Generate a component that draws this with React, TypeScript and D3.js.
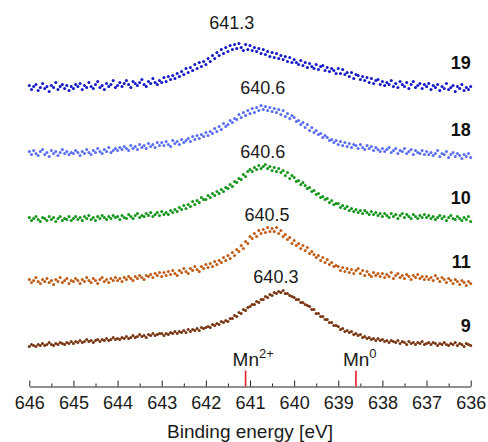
import React, { useEffect, useRef } from 'react';
import * as d3 from 'd3';

// binding energy grid, 646 -> 636 eV in 0.05 eV steps
const energy: number[] = d3.range(201).map(i => +(646 - i * 0.05).toFixed(2));

// intensities (a.u., already offset for stacking)
const s19 = [
  301, 297, 300, 302, 296, 299, 303, 298, 300, 295, 301, 299, 304, 297, 300, 302, 298, 301, 296, 300,
  298, 302, 300, 303, 297, 301, 299, 304, 300, 298, 302, 305, 299, 301, 297, 303, 300, 302, 306, 299,
  301, 304, 300, 303, 306, 302, 299, 305, 303, 301, 304, 307, 302, 300, 305, 303, 308, 304, 302, 306,
  304, 309, 305, 310, 307, 311, 308, 313, 310, 315, 312, 318, 314, 319, 316, 322, 318, 324, 320, 325,
  322, 328, 325, 331, 328, 334, 331, 337, 333, 339, 335, 341, 337, 342, 338, 343, 339, 336, 342, 337,
  341, 336, 339, 335, 338, 333, 337, 332, 335, 330, 334, 329, 333, 328, 331, 327, 330, 325, 329, 324,
  327, 324, 322, 326, 321, 324, 319, 323, 320, 318, 322, 317, 320, 321, 316, 319, 315, 318, 316, 313,
  318, 313, 317, 312, 314, 310, 314, 308, 312, 311, 307, 310, 306, 309, 304, 308, 303, 306, 307, 302,
  305, 301, 304, 302, 306, 300, 303, 299, 305, 302, 300, 304, 298, 302, 305, 299, 301, 303, 298, 302,
  300, 303, 297, 301, 299, 302, 296, 300, 298, 303, 297, 299, 301, 295, 300, 298, 302, 296, 299, 297, 300,
];
const s18 = [
  235, 232, 236, 233, 231, 235, 237, 232, 234, 230, 236, 233, 235, 231, 234, 237, 233, 235, 232, 234,
  233, 236, 234, 231, 235, 233, 237, 234, 232, 236, 234, 238, 235, 233, 237, 235, 239, 234, 236, 238,
  236, 239, 237, 240, 238, 236, 241, 238, 240, 237, 242, 239, 241, 238, 243, 240, 242, 239, 244, 241,
  244, 241, 245, 242, 240, 246, 243, 245, 242, 247, 244, 246, 248, 245, 250, 247, 251, 248, 252, 250,
  254, 251, 255, 253, 258, 255, 260, 257, 263, 260, 262, 266, 264, 268, 267, 272, 269, 274, 271, 276,
  273, 278, 274, 279, 276, 281, 277, 280, 276, 279, 275, 278, 274, 277, 272, 276, 270, 273, 268, 271,
  269, 265, 266, 262, 264, 259, 262, 256, 259, 254, 256, 252, 253, 249, 251, 249, 246, 247, 244, 246,
  242, 245, 241, 244, 240, 243, 239, 242, 241, 238, 242, 239, 237, 241, 238, 240, 236, 239, 237, 235,
  238, 235, 237, 239, 234, 236, 238, 233, 236, 235, 238, 233, 235, 237, 232, 236, 234, 233, 236, 232,
  235, 232, 234, 231, 233, 236, 230, 233, 232, 235, 229, 232, 234, 230, 233, 231, 228, 232, 230, 233, 229,
];
const s10 = [
  169, 166, 168, 170, 167, 165, 169, 168, 166, 170, 167, 169, 165, 168, 170, 166, 168, 167, 170, 166,
  168, 170, 167, 169, 166, 170, 168, 171, 167, 169, 166, 170, 168, 171, 169, 167, 170, 168, 171, 169,
  170, 167, 171, 169, 168, 172, 170, 168, 171, 173, 169, 171, 170, 173, 171, 174, 170, 172, 174, 171,
  175, 172, 174, 172, 176, 174, 177, 175, 179, 177, 181, 178, 182, 180, 185, 182, 186, 184, 189, 187,
  187, 191, 189, 193, 191, 195, 193, 197, 195, 199, 198, 202, 200, 205, 204, 208, 207, 212, 210, 215,
  217, 215, 219, 217, 221, 218, 220, 222, 218, 220, 216, 219, 215, 218, 214, 216, 211, 214, 208, 211,
  209, 205, 206, 202, 204, 201, 198, 199, 195, 196, 192, 193, 189, 190, 187, 188, 184, 186, 182, 183,
  183, 179, 181, 178, 180, 176, 178, 175, 177, 174, 176, 173, 176, 174, 172, 175, 172, 174, 171, 173,
  170, 173, 171, 169, 173, 170, 172, 168, 171, 173, 169, 172, 170, 168, 172, 170, 168, 171, 169, 172,
  169, 171, 168, 170, 167, 169, 171, 168, 170, 166, 169, 171, 168, 167, 170, 168, 166, 169, 167, 170, 165,
];
const s11 = [
  107, 104, 106, 109, 105, 103, 107, 105, 108, 104, 106, 102, 107, 105, 109, 104, 106, 108, 103, 106,
  105, 108, 106, 103, 107, 105, 109, 106, 104, 108, 106, 103, 107, 109, 105, 107, 104, 108, 106, 109,
  106, 108, 105, 109, 107, 110, 108, 106, 110, 108, 111, 109, 107, 111, 110, 112, 109, 113, 111, 114,
  110, 114, 111, 115, 112, 116, 113, 111, 116, 114, 118, 115, 113, 118, 116, 120, 117, 115, 120, 118,
  122, 119, 123, 120, 125, 122, 126, 124, 129, 126, 131, 128, 134, 131, 137, 135, 141, 138, 145, 143,
  150, 148, 153, 150, 156, 153, 157, 154, 159, 155, 158, 155, 159, 153, 156, 150, 152, 147, 149, 143,
  146, 141, 143, 138, 141, 136, 139, 133, 135, 132, 129, 131, 126, 129, 124, 127, 122, 124, 120, 121,
  120, 116, 119, 115, 118, 114, 117, 113, 116, 118, 113, 116, 111, 115, 112, 110, 114, 111, 113, 110,
  113, 109, 112, 110, 114, 108, 111, 113, 109, 111, 108, 112, 110, 107, 111, 109, 112, 108, 110, 107,
  110, 107, 109, 106, 111, 108, 105, 109, 107, 104, 108, 106, 103, 107, 105, 102, 106, 104, 101, 105, 103,
];
const s9 = [
  40, 42, 41, 40, 42, 41, 43, 41, 42, 44, 42, 41, 43, 42, 44, 43, 42, 44, 43, 45,
  43, 45, 44, 46, 44, 45, 47, 45, 46, 44, 46, 47, 45, 47, 46, 48, 46, 47, 49, 47,
  48, 47, 49, 48, 50, 48, 49, 51, 49, 50, 52, 50, 51, 49, 52, 51, 53, 51, 52, 53,
  53, 51, 53, 52, 54, 53, 55, 53, 55, 54, 56, 54, 57, 55, 57, 56, 58, 56, 59, 58,
  59, 60, 59, 62, 61, 63, 62, 65, 64, 66, 65, 68, 68, 71, 70, 74, 73, 77, 76, 79,
  80, 82, 82, 85, 84, 87, 87, 90, 89, 92, 91, 94, 93, 95, 94, 96, 93, 93, 91, 90,
  89, 87, 87, 84, 84, 82, 81, 80, 77, 77, 73, 73, 70, 70, 67, 67, 64, 64, 61, 61,
  60, 57, 58, 55, 56, 54, 55, 52, 53, 51, 52, 49, 50, 48, 49, 47, 48, 46, 48, 46,
  47, 45, 46, 44, 46, 45, 44, 46, 43, 45, 44, 42, 45, 43, 44, 42, 44, 43, 45, 42,
  43, 44, 42, 44, 43, 41, 43, 42, 44, 42, 41, 43, 42, 44, 41, 43, 42, 40, 43, 42, 41,
];

const sampleNames = ['19', '18', '10', '11', '9'];
const peakPositions = [641.3, 640.6, 640.6, 640.5, 640.3];
const seriesValues = [s19, s18, s10, s11, s9];
const seriesColors = ['#1218c6', '#5a6ef2', '#14961a', '#c05c16', '#7a3612'];
// annotation heights in the same a.u. as the spectra
const peakLabelLevels = [358, 293, 229, 166, 104];
const nameLabelLevels = [318, 251, 183, 119, 55];

const majorTicks = d3.range(636, 647, 1);
const minorTicks = d3.range(636.5, 646, 1);

const references = [
  { label: 'Mn', sup: '2+', energy: 641.1 },
  { label: 'Mn', sup: '0', energy: 638.6 },
];

const FONT = "'Liberation Sans', Arial, sans-serif";

export default function App() {
  const svgRef = useRef<SVGSVGElement>(null);

  useEffect(() => {
    if (!svgRef.current) return;
    const svg = d3.select(svgRef.current);
    svg.selectAll('*').remove();

    const x = d3.scaleLinear().domain([646, 636]).range([29.3, 470.7]);
    const y = d3.scaleLinear().domain([0, 370]).range([386.5, 16.5]);

    // spectra
    seriesValues.forEach((vals, k) => {
      const pts = vals.map((v, i) => ({ e: energy[i], v }));
      svg.append('g')
        .selectAll('circle')
        .data(pts)
        .enter()
        .append('circle')
        .attr('cx', d => x(d.e))
        .attr('cy', d => y(d.v))
        .attr('r', 1.5)
        .style('fill', seriesColors[k]);

      // peak label
      svg.append('text')
        .attr('x', x(peakPositions[k]) - 5)
        .attr('y', y(peakLabelLevels[k]))
        .attr('text-anchor', 'middle')
        .style('font-family', FONT)
        .style('font-size', '18px')
        .style('fill', '#1a1a1a')
        .text(peakPositions[k].toFixed(1));

      // sample number on the right
      svg.append('text')
        .attr('x', x(636))
        .attr('y', y(nameLabelLevels[k]))
        .attr('text-anchor', 'end')
        .style('font-family', FONT)
        .style('font-size', '18px')
        .style('font-weight', 'bold')
        .style('fill', '#111')
        .text(sampleNames[k]);
    });

    // x axis, ticks pointing up
    const axisG = svg.append('g').attr('transform', `translate(0,${y(0)})`);
    axisG.call(
      d3.axisBottom(x)
        .tickValues(majorTicks)
        .tickSize(-6)
        .tickSizeOuter(0)
        .tickPadding(10)
        .tickFormat(d3.format('d'))
    );
    const minorG = svg.append('g').attr('transform', `translate(0,${y(0)})`);
    minorG.call(
      d3.axisBottom(x)
        .tickValues(minorTicks)
        .tickSize(-3)
        .tickSizeOuter(0)
        .tickFormat(() => '')
    );
    minorG.select('.domain').remove();
    svg.selectAll('.tick line, .domain').attr('stroke', '#222');
    axisG.selectAll('text')
      .style('font-family', FONT)
      .style('font-size', '18px')
      .style('fill', '#1a1a1a');

    svg.append('text')
      .attr('x', (x(646) + x(636)) / 2)
      .attr('y', 438)
      .attr('text-anchor', 'middle')
      .style('font-family', FONT)
      .style('font-size', '19px')
      .style('fill', '#1a1a1a')
      .text('Binding energy [eV]');

    // reference positions
    references.forEach(r => {
      svg.append('line')
        .attr('x1', x(r.energy))
        .attr('x2', x(r.energy))
        .attr('y1', y(0))
        .attr('y2', y(16))
        .attr('stroke', '#e3202c')
        .attr('stroke-width', 1.6);
      const t = svg.append('text')
        .attr('x', x(r.energy) - 13)
        .attr('y', 366)
        .style('font-family', FONT)
        .style('font-size', '19px')
        .style('fill', '#1a1a1a');
      t.append('tspan').text(r.label);
      t.append('tspan')
        .attr('dy', -8)
        .style('font-size', '13px')
        .text(r.sup);
    });
  }, []);

  return (
    <div style={{ position: 'fixed', left: 0, top: 0, width: 488, height: 442, background: '#fff' }}>
      <svg ref={svgRef} width={488} height={442} />
    </div>
  );
}
